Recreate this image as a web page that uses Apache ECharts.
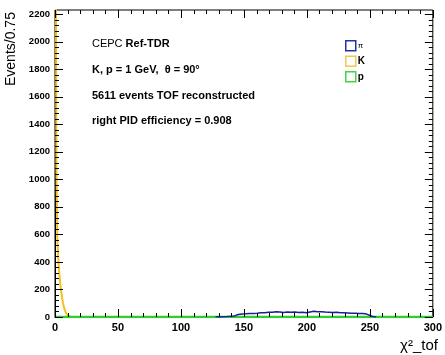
<!DOCTYPE html>
<html>
<head>
<meta charset="utf-8">
<script src="https://cdn.jsdelivr.net/npm/echarts@6/dist/echarts.min.js"></script>
<style>html,body{margin:0;padding:0;background:#fff}#c{width:445px;height:355px}</style>
</head>
<body>
<div id="c"></div>
<script>
// ---- data ----
const seriesNames = ['π', 'K', 'p'];
// K (kaon) histogram: bin centres and counts (bin width 0.75)
const kX = [0.375, 1.125, 1.875, 2.625, 3.375, 4.125, 4.875, 5.625, 6.375, 7.125, 7.875, 8.625, 9.375, 10.125, 10.875, 11.625, 12.375, 13.125, 13.875, 300];
const kY = [3400, 1100, 560, 420, 320, 240, 190, 140, 100, 70, 48, 32, 20, 12, 7, 4, 2, 1, 0, 0];
// pion histogram (coarse bins of 1.5 starting at 127.5)
const piStart = 127.5;
const piBin = 1.5;
const piY = [1, 3, 0, 4, 2, 6, 3, 8, 5, 11,
             8, 15, 18, 13, 21, 17, 23, 19, 26, 20,
             25, 19, 27, 24, 30, 22, 31, 25, 34, 27,
             35, 28, 38, 31, 37, 42, 33, 44, 36, 40,
             34, 45, 36, 41, 33, 44, 35, 42, 31, 40,
             37, 30, 41, 32, 38, 29, 39, 30, 36, 28,
             35, 27, 33, 26, 34, 25, 31, 23, 30, 26,
             29, 22, 28, 24, 27, 20, 26, 22, 25, 19,
             21, 15, 9, 3, 1, 0];
// proton histogram
const pX = [0, 300];
const pY = [0, 0];
// axis ranges and tick values
const xRange = [0, 300];
const yRange = [0, 2230];
const xMajorTicks = [0, 50, 100, 150, 200, 250, 300];
const xMinorTicks = [10, 20, 30, 40, 60, 70, 80, 90, 110, 120, 130, 140, 160, 170, 180, 190, 210, 220, 230, 240, 260, 270, 280, 290];
const yMajorTicks = [0, 200, 400, 600, 800, 1000, 1200, 1400, 1600, 1800, 2000, 2200];
const yMinorTicks = [40, 80, 120, 160, 240, 280, 320, 360, 440, 480, 520, 560, 640, 680, 720, 760, 840, 880, 920, 960,
                     1040, 1080, 1120, 1160, 1240, 1280, 1320, 1360, 1440, 1480, 1520, 1560, 1640, 1680, 1720, 1760,
                     1840, 1880, 1920, 1960, 2040, 2080, 2120, 2160];
const annotations = ['K, p = 1 GeV,  θ = 90°', '5611 events TOF reconstructed', 'right PID efficiency = 0.908'];

const kData = kX.map((x, i) => [x, kY[i]]);
const piData = piY.map((v, i) => [piStart + i * piBin, v]);
const pData = pX.map((x, i) => [x, pY[i]]);
// tick table: [value, kind]  kind 0 = x major, 1 = x minor, 2 = y major, 3 = y minor
const tickData = [].concat(
  xMajorTicks.map(v => [v, 0]), xMinorTicks.map(v => [v, 1]),
  yMajorTicks.map(v => [v, 2]), yMinorTicks.map(v => [v, 3]));

const FONT = '"Liberation Sans", Arial, Helvetica, sans-serif';
const colors = { 'π': '#1c1ca0', 'K': '#f2c21a', 'p': '#2fcf2f' };
const legendColors = { 'π': '#2233aa', 'K': '#f3c84a', 'p': '#44d444' };

function renderTick(params, api) {
  const v = api.value(0), k = api.value(1);
  const len = (k === 0 || k === 2) ? 8 : 4;
  const style = { stroke: '#000', lineWidth: 1 };
  if (k < 2) {
    const b = api.coord([v, yRange[0]]), t = api.coord([v, yRange[1]]);
    const x = Math.round(b[0]) + 0.5;
    return { type: 'group', children: [
      { type: 'line', shape: { x1: x, y1: b[1], x2: x, y2: b[1] - len }, style: style },
      { type: 'line', shape: { x1: x, y1: t[1], x2: x, y2: t[1] + len }, style: style }
    ] };
  }
  const l = api.coord([xRange[0], v]), r = api.coord([xRange[1], v]);
  const y = Math.round(l[1]) + 0.5;
  return { type: 'group', children: [
    { type: 'line', shape: { x1: l[0], y1: y, x2: l[0] + len, y2: y }, style: style },
    { type: 'line', shape: { x1: r[0], y1: y, x2: r[0] - len, y2: y }, style: style }
  ] };
}

function makeAxis(range, interval, label) {
  return {
    type: 'value', min: range[0], max: range[1], interval: interval,
    splitLine: { show: false },
    axisLine: { show: true, lineStyle: { color: '#000', width: 1 } },
    axisTick: { show: false },
    minorTick: { show: false },
    axisLabel: label
  };
}

const chart = echarts.init(document.getElementById('c'));
chart.setOption({
  animation: false,
  grid: { left: 55, right: 7, top: 10, bottom: 38, show: true, borderColor: '#000', borderWidth: 1, backgroundColor: 'rgba(0,0,0,0)' },
  xAxis: makeAxis(xRange, 50, { show: true, color: '#000', fontFamily: FONT, fontWeight: 'bold', fontSize: 11, margin: 5 }),
  yAxis: makeAxis(yRange, 200, { show: true, color: '#000', fontFamily: FONT, fontWeight: 'bold', fontSize: 9.5, margin: 5,
      showMaxLabel: false, formatter: v => String(v) }),
  legend: {
    orient: 'vertical', left: 340, top: 35, itemWidth: 10, itemHeight: 10, itemGap: 4,
    icon: 'rect',
    lineStyle: { opacity: 0 },
    data: seriesNames.map(n => ({ name: n, icon: 'rect',
      itemStyle: { color: 'rgba(0,0,0,0)', borderColor: legendColors[n], borderWidth: 1.5 } })),
    textStyle: { color: '#000', fontFamily: FONT, fontWeight: 'bold', fontSize: 10, padding: [0, 0, 0, -3],
      rich: { s: { fontFamily: FONT, fontSize: 8, fontWeight: 'normal', color: '#000' } } },
    formatter: n => n === 'π' ? '{s|π}' : n
  },
  series: [
    { name: 'K', type: 'line', data: kData, showSymbol: false, lineStyle: { color: colors['K'], width: 2 }, itemStyle: { color: colors['K'] } },
    { name: 'p', type: 'line', data: pData, showSymbol: false, lineStyle: { color: colors['p'], width: 2.5 }, itemStyle: { color: colors['p'] } },
    { name: 'π', type: 'line', data: piData, showSymbol: false, lineStyle: { color: colors['π'], width: 1.5 }, itemStyle: { color: colors['π'] } },
    { name: 'ticks', type: 'custom', data: tickData, renderItem: renderTick, clip: false, silent: true, z: 10 }
  ],
  graphic: [
    { type: 'text', x: 4, y: 86, rotation: Math.PI / 2,
      style: { text: 'Events/0.75', font: '14px ' + FONT, fill: '#000', textAlign: 'left', textVerticalAlign: 'top' } },
    { type: 'text', x: 438, y: 346,
      style: { text: 'χ²_tof', font: '15px ' + FONT, fill: '#000', textAlign: 'right', textVerticalAlign: 'middle' } },
    { type: 'text', x: 92, y: 44,
      style: { text: '{n|CEPC }{b|Ref-TDR}', textVerticalAlign: 'middle',
        rich: { n: { font: '11px ' + FONT, fill: '#000' }, b: { font: 'bold 11px ' + FONT, fill: '#000' } } } },
    { type: 'text', x: 92, y: 70, style: { text: annotations[0], font: 'bold 11px ' + FONT, fill: '#000', textVerticalAlign: 'middle' } },
    { type: 'text', x: 92, y: 96, style: { text: annotations[1], font: 'bold 11px ' + FONT, fill: '#000', textVerticalAlign: 'middle' } },
    { type: 'text', x: 92, y: 121, style: { text: annotations[2], font: 'bold 11px ' + FONT, fill: '#000', textVerticalAlign: 'middle' } }
  ]
});
</script>
</body>
</html>
